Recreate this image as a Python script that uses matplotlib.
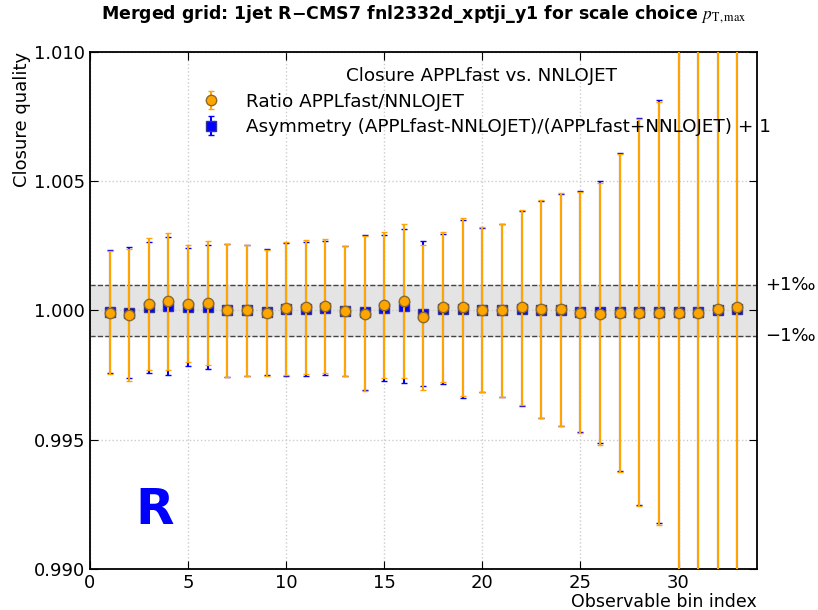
import numpy as np
import matplotlib
matplotlib.use("Agg")
import matplotlib.pyplot as plt

plt.rcParams['mathtext.fontset'] = 'stix'

# -------------------------------
# DATA
# -------------------------------
bins = list(range(1, 34))

ratio = [0.99992, 0.99983, 1.00025, 1.00035, 1.00027, 1.00030, 1.00001, 1.00000,
         0.99990, 1.00008, 1.00013, 1.00017, 0.99997, 0.99987, 1.00022, 1.00036,
         0.99974, 1.00012, 1.00013, 1.00003, 1.00000, 1.00012, 1.00006, 1.00004,
         0.99992, 0.99987, 0.99991, 0.99992, 0.99990, 0.99990, 0.99991, 1.00004,
         1.00014]
ratio_err = [0.00237, 0.00255, 0.00254, 0.00266, 0.00227, 0.00240, 0.00258, 0.00253,
             0.00243, 0.00256, 0.00259, 0.00259, 0.00251, 0.00300, 0.00282, 0.00298,
             0.00280, 0.00290, 0.00344, 0.00319, 0.00335, 0.00377, 0.00420, 0.00449,
             0.00465, 0.00507, 0.00614, 0.00750, 0.00818, 0.01200, 0.01500, 0.02000,
             0.01300]

asym = [0.99996, 0.99992, 1.00012, 1.00017, 1.00013, 1.00015, 1.00000, 1.00000,
        0.99995, 1.00004, 1.00006, 1.00008, 0.99998, 0.99993, 1.00011, 1.00018,
        0.99987, 1.00006, 1.00006, 1.00002, 1.00000, 1.00006, 1.00003, 1.00002,
        0.99996, 0.99993, 0.99995, 0.99996, 0.99995, 0.99995, 0.99995, 1.00002,
        1.00007]
asym_err = list(ratio_err)

band_lo, band_hi = 0.999, 1.001

title = "Merged grid: 1jet R\u2212CMS7 fnl2332d_xptji_y1 for scale choice $p_{\\mathrm{T,max}}$"

# -------------------------------
# PLOT
# -------------------------------
fig = plt.figure(figsize=(8.18, 6.10), dpi=100)
ax = fig.add_axes([0.110, 0.0672, 0.8154, 0.8476])

ax.axhspan(band_lo, band_hi, color="#e4e4e4", zorder=0)
ax.axhline(band_lo, color="#444444", ls="--", lw=1, zorder=1)
ax.axhline(band_hi, color="#444444", ls="--", lw=1, zorder=1)

ax.errorbar(bins, asym, yerr=asym_err, fmt="s", color="blue", ecolor="blue",
            markersize=7, markeredgecolor="#333399", elinewidth=1.5, capsize=2,
            label="Asymmetry (APPLfast-NNLOJET)/(APPLfast+NNLOJET) + 1", zorder=3)
ax.errorbar(bins, ratio, yerr=ratio_err, fmt="o", color="orange", ecolor="orange",
            markersize=7.5, markeredgecolor="#8a6a2a", elinewidth=1.5, capsize=2,
            label="Ratio APPLfast/NNLOJET", zorder=4)

ax.text(1.012, band_hi, "+1\u2030", transform=ax.get_yaxis_transform(),
        fontsize=13, va="center", ha="left")
ax.text(1.012, band_lo, "\u22121\u2030", transform=ax.get_yaxis_transform(),
        fontsize=13, va="center", ha="left")

ax.text(3.3, 0.9923, "R", color="blue", fontsize=36, fontweight="bold",
        ha="center", va="center")

ax.set_xlim(0, 34)
ax.set_ylim(0.990, 1.010)
ax.set_xticks([0, 5, 10, 15, 20, 25, 30])
ax.set_yticks([0.990, 0.995, 1.000, 1.005, 1.010])
ax.yaxis.set_major_formatter(plt.FormatStrFormatter("%.3f"))
ax.tick_params(direction="in", top=True, right=True, labelsize=13, length=6)
ax.grid(True, color="#cccccc", ls=":", lw=1)
for s in ax.spines.values():
    s.set_linewidth(1.3)

ax.set_xlabel("Observable bin index", fontsize=12.5, loc="right", labelpad=1)
ax.set_ylabel("Closure quality", fontsize=13, loc="top", labelpad=2)
ax.set_title(title, fontsize=12.5, fontweight="bold", pad=24)

h, l = ax.get_legend_handles_labels()
leg = ax.legend(h[::-1], l[::-1], loc="upper right", bbox_to_anchor=(1.04, 0.995),
                frameon=False, fontsize=13.2,
                title="Closure APPLfast vs. NNLOJET", title_fontsize=13.2,
                borderaxespad=0.3, handletextpad=0.9, labelspacing=0.4)

fig.savefig("out.png", dpi=100)
